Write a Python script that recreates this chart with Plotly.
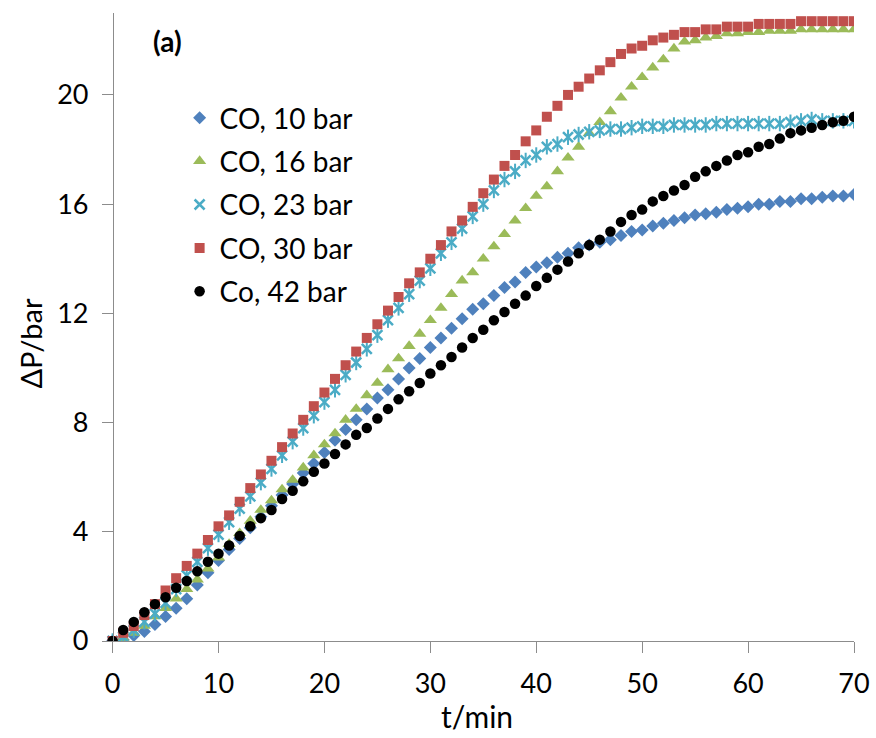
import plotly.graph_objects as go

t_min = list(range(0, 71))

co_10bar = [0, 0.05, 0.2, 0.35, 0.6, 0.9, 1.2, 1.55, 2.05, 2.5,
            2.95, 3.35, 3.75, 4.15, 4.55, 4.95, 5.35, 5.75, 6.15, 6.5,
            6.9, 7.35, 7.75, 8.1, 8.5, 8.9, 9.2, 9.6, 10.0, 10.35,
            10.75, 11.1, 11.45, 11.8, 12.15, 12.35, 12.65, 12.95, 13.15, 13.5,
            13.7, 13.85, 14.05, 14.2, 14.4, 14.5, 14.6, 14.7, 14.85, 15.0,
            15.05, 15.2, 15.3, 15.4, 15.5, 15.6, 15.65, 15.7, 15.8, 15.85,
            15.9, 16.0, 16.0, 16.1, 16.1, 16.2, 16.2, 16.25, 16.3, 16.3,
            16.35]

co_16bar = [0, 0.1, 0.3, 0.55, 0.9, 1.2, 1.55, 1.9, 2.25, 2.65,
            3.05, 3.55, 3.95, 4.4, 4.8, 5.15, 5.55, 5.9, 6.35, 6.8,
            7.2, 7.6, 8.1, 8.5, 9.0, 9.45, 9.95, 10.35, 10.8, 11.25,
            11.75, 12.2, 12.7, 13.2, 13.5, 14.0, 14.45, 14.9, 15.4, 15.85,
            16.3, 16.65, 17.2, 17.7, 18.1, 18.6, 19.0, 19.4, 19.9, 20.3,
            20.65, 21.0, 21.3, 21.7, 21.95, 22.0, 22.1, 22.15, 22.25, 22.25,
            22.3, 22.3, 22.35, 22.35, 22.35, 22.4, 22.4, 22.4, 22.4, 22.4,
            22.4]

co_23bar = [0, 0.15, 0.4, 0.7, 1.0, 1.4, 1.9, 2.4, 2.9, 3.4,
            3.9, 4.35, 4.85, 5.3, 5.8, 6.3, 6.8, 7.3, 7.8, 8.25,
            8.75, 9.2, 9.75, 10.2, 10.7, 11.2, 11.75, 12.2, 12.7, 13.2,
            13.65, 14.2, 14.6, 15.1, 15.55, 16.0, 16.5, 16.9, 17.2, 17.6,
            17.8, 18.1, 18.2, 18.45, 18.55, 18.65, 18.7, 18.75, 18.75, 18.8,
            18.85, 18.85, 18.85, 18.9, 18.9, 18.9, 18.9, 18.95, 18.95, 18.95,
            18.95, 18.95, 18.95, 18.95, 19.0, 19.05, 19.1, 19.05, 19.05, 19.05,
            19.05]

co_30bar = [0, 0.3, 0.55, 0.95, 1.35, 1.85, 2.3, 2.75, 3.2, 3.7,
            4.2, 4.6, 5.1, 5.6, 6.1, 6.6, 7.1, 7.6, 8.1, 8.6,
            9.1, 9.6, 10.1, 10.6, 11.1, 11.6, 12.1, 12.6, 13.1, 13.5,
            14.0, 14.5, 15.0, 15.4, 15.9, 16.4, 16.9, 17.4, 17.8, 18.3,
            18.7, 19.2, 19.6, 20.0, 20.3, 20.6, 20.9, 21.2, 21.5, 21.7,
            21.8, 22.0, 22.1, 22.2, 22.3, 22.3, 22.4, 22.4, 22.5, 22.5,
            22.5, 22.6, 22.6, 22.6, 22.6, 22.7, 22.7, 22.7, 22.7, 22.7,
            22.7]

co_42bar = [0, 0.4, 0.7, 1.05, 1.35, 1.6, 1.95, 2.2, 2.55, 2.9,
            3.2, 3.5, 3.85, 4.2, 4.5, 4.8, 5.2, 5.5, 5.85, 6.2,
            6.5, 6.85, 7.2, 7.55, 7.8, 8.15, 8.5, 8.85, 9.15, 9.45,
            9.8, 10.1, 10.4, 10.75, 11.1, 11.4, 11.75, 12.05, 12.35, 12.65,
            13.0, 13.3, 13.6, 13.9, 14.2, 14.5, 14.7, 15.0, 15.35, 15.6,
            15.8, 16.1, 16.3, 16.5, 16.7, 17.0, 17.2, 17.4, 17.6, 17.8,
            17.9, 18.1, 18.2, 18.4, 18.6, 18.7, 18.8, 18.9, 19.0, 19.05,
            19.2]

names = ["CO, 10 bar", "CO, 16 bar", "CO, 23 bar", "CO, 30 bar", "Co, 42 bar"]
x_ticks = [0, 10, 20, 30, 40, 50, 60, 70]
y_ticks = [0, 4, 8, 12, 16, 20]

FONT = "Lato, 'Open Sans', sans-serif"

fig = go.Figure()
fig.add_trace(go.Scatter(x=t_min, y=co_10bar, mode="markers", name=names[0],
                         legendgroup="g1",
                         marker=dict(symbol="diamond", size=10, color="#4F81BD",
                                     line=dict(width=0))))
fig.add_trace(go.Scatter(x=t_min, y=co_16bar, mode="markers", name=names[1],
                         legendgroup="g2",
                         marker=dict(symbol="triangle-up", size=11.5, color="#9BBB59",
                                     line=dict(width=0))))
fig.add_trace(go.Scatter(x=t_min, y=co_23bar, mode="markers", name=names[2],
                         legendgroup="g3",
                         marker=dict(symbol="x-thin-open", size=10, color="#4BACC6",
                                     line=dict(width=2.5, color="#4BACC6"))))
fig.add_trace(go.Scatter(x=t_min, y=co_23bar, mode="markers", name=names[2],
                         legendgroup="g3", showlegend=False, hoverinfo="skip",
                         marker=dict(symbol="line-ns-open", size=11, color="#4BACC6",
                                     line=dict(width=2, color="#4BACC6"))))
fig.add_trace(go.Scatter(x=t_min, y=co_30bar, mode="markers", name=names[3],
                         legendgroup="g4",
                         marker=dict(symbol="square", size=10, color="#C0504D",
                                     line=dict(width=0))))
fig.add_trace(go.Scatter(x=t_min, y=co_42bar, mode="markers", name=names[4],
                         legendgroup="g5",
                         marker=dict(symbol="circle", size=10.5, color="#000000",
                                     line=dict(width=0))))

L, R, T, B = 102.4, 21.7, 13, 97
W, H = 876, 738
pw, ph = W - L - R, H - T - B

def px_x(px):
    return (px - L) / pw

def px_y(py):
    return (H - B - py) / ph

fig.update_layout(
    width=W, height=H,
    margin=dict(l=L, r=R, t=T, b=B, pad=0, autoexpand=False),
    paper_bgcolor="white", plot_bgcolor="white",
    font=dict(family=FONT, size=26, color="#000000"),
    showlegend=True,
    legend=dict(x=px_x(180), y=px_y(93), xanchor="left", yanchor="top",
                bgcolor="rgba(0,0,0,0)", borderwidth=0,
                font=dict(family=FONT, size=28, color="#000000"),
                traceorder="grouped", tracegroupgap=4, itemwidth=30),
    xaxis=dict(range=[-1, 70], tickvals=x_ticks, showgrid=False, zeroline=False,
               automargin=False,
               showline=True, linecolor="#8C8C8C", linewidth=1,
               ticks="outside", ticklen=11, tickcolor="#8C8C8C", tickwidth=1,
               tickfont=dict(family=FONT, size=27, color="#000000"),
               ticklabelstandoff=8, ticklabeloverflow="allow"),
    yaxis=dict(range=[0, 23], tickvals=y_ticks, showgrid=False, zeroline=False,
               automargin=False,
               anchor="free", position=px_x(113.3),
               showline=True, linecolor="#8C8C8C", linewidth=1,
               ticks="outside", ticklen=11, tickcolor="#8C8C8C", tickwidth=1,
               tickfont=dict(family=FONT, size=27, color="#000000"),
               ticklabelstandoff=8),
    annotations=[
        dict(text="ΔP/bar", x=px_x(30), y=px_y(343), xref="paper", yref="paper",
             showarrow=False, textangle=-90, xanchor="center", yanchor="middle",
             font=dict(family=FONT, size=29, color="#000000")),
        dict(text="t/min", x=px_x(477), y=px_y(716), xref="paper", yref="paper",
             showarrow=False, xanchor="center", yanchor="middle",
             font=dict(family=FONT, size=30, color="#000000")),
        dict(text="<b>(a)</b>", x=px_x(168), y=px_y(41), xref="paper", yref="paper",
             showarrow=False, xanchor="center", yanchor="middle",
             font=dict(family=FONT, size=28, color="#000000")),
    ],
)

fig.write_html("out.html")
